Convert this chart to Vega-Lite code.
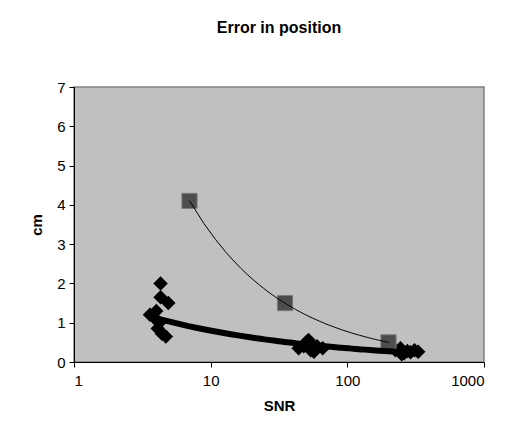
{
  "$schema": "https://vega.github.io/schema/vega-lite/v6.json",
  "width": 410,
  "height": 275,
  "autosize": {"type": "none"},
  "padding": {"left": 74, "top": 87, "right": 33, "bottom": 79},
  "background": "white",
  "title": {"text": "Error in position", "font": "Liberation Sans", "fontSize": 16, "fontWeight": "bold", "color": "black", "anchor": "middle", "offset": 44},
  "config": {
    "view": {"fill": "#c0c0c0", "stroke": "#808080", "strokeWidth": 1.5},
    "axis": {"labelFont": "Liberation Sans", "titleFont": "Liberation Sans", "labelColor": "black", "titleColor": "black", "labelFontSize": 15, "titleFontSize": 15, "titleFontWeight": "bold", "grid": false, "domainColor": "black", "tickColor": "black", "tickSize": 5, "labelOverlap": false}
  },
  "data": {"values": [
    {"snr": 3.6, "cm": 1.2, "series": "d"},
    {"snr": 3.8, "cm": 1.15, "series": "d"},
    {"snr": 4.0, "cm": 1.3, "series": "d"},
    {"snr": 4.3, "cm": 2.0, "series": "d"},
    {"snr": 4.3, "cm": 1.65, "series": "d"},
    {"snr": 4.9, "cm": 1.5, "series": "d"},
    {"snr": 4.1, "cm": 0.85, "series": "d"},
    {"snr": 4.4, "cm": 0.72, "series": "d"},
    {"snr": 4.7, "cm": 0.65, "series": "d"},
    {"snr": 4.2, "cm": 1.0, "series": "d"},
    {"snr": 44, "cm": 0.35, "series": "d"},
    {"snr": 48, "cm": 0.4, "series": "d"},
    {"snr": 50, "cm": 0.5, "series": "d"},
    {"snr": 52, "cm": 0.56, "series": "d"},
    {"snr": 54, "cm": 0.3, "series": "d"},
    {"snr": 55, "cm": 0.45, "series": "d"},
    {"snr": 57, "cm": 0.26, "series": "d"},
    {"snr": 60, "cm": 0.4, "series": "d"},
    {"snr": 66, "cm": 0.35, "series": "d"},
    {"snr": 225, "cm": 0.3, "series": "d"},
    {"snr": 245, "cm": 0.35, "series": "d"},
    {"snr": 260, "cm": 0.22, "series": "d"},
    {"snr": 275, "cm": 0.28, "series": "d"},
    {"snr": 290, "cm": 0.25, "series": "d"},
    {"snr": 310, "cm": 0.3, "series": "d"},
    {"snr": 330, "cm": 0.26, "series": "d"},
    {"snr": 250, "cm": 0.2, "series": "d"},
    {"snr": 7, "cm": 4.1, "series": "s"},
    {"snr": 35, "cm": 1.5, "series": "s"},
    {"snr": 200, "cm": 0.5, "series": "s"}
  ]},
  "encoding": {
    "x": {"field": "snr", "type": "quantitative", "scale": {"type": "log", "domain": [1, 1000]}, "axis": {"values": [1, 10, 100, 1000], "format": "d", "title": "SNR", "labelPadding": 6, "titlePadding": 10}},
    "y": {"field": "cm", "type": "quantitative", "scale": {"domain": [0, 7], "nice": false}, "axis": {"values": [0, 1, 2, 3, 4, 5, 6, 7], "tickCount": 8, "title": "cm", "labelPadding": 4, "titlePadding": 12}}
  },
  "layer": [
    {
      "transform": [{"filter": "datum.series === 'd'"}],
      "mark": {"type": "point", "shape": "diamond", "filled": true, "color": "black", "opacity": 1, "size": 210}
    },
    {
      "transform": [{"filter": "datum.series === 's'"}],
      "mark": {"type": "point", "shape": "square", "filled": true, "fill": "#4d4d4d", "stroke": "#7a7a7a", "strokeWidth": 1, "opacity": 1, "size": 230}
    },
    {
      "transform": [{"filter": "datum.series === 'd'"}, {"regression": "cm", "on": "snr", "method": "pow"}],
      "mark": {"type": "line", "color": "black", "strokeWidth": 6}
    },
    {
      "transform": [{"filter": "datum.series === 's'"}, {"regression": "cm", "on": "snr", "method": "pow"}],
      "mark": {"type": "line", "color": "black", "strokeWidth": 1}
    }
  ]
}
